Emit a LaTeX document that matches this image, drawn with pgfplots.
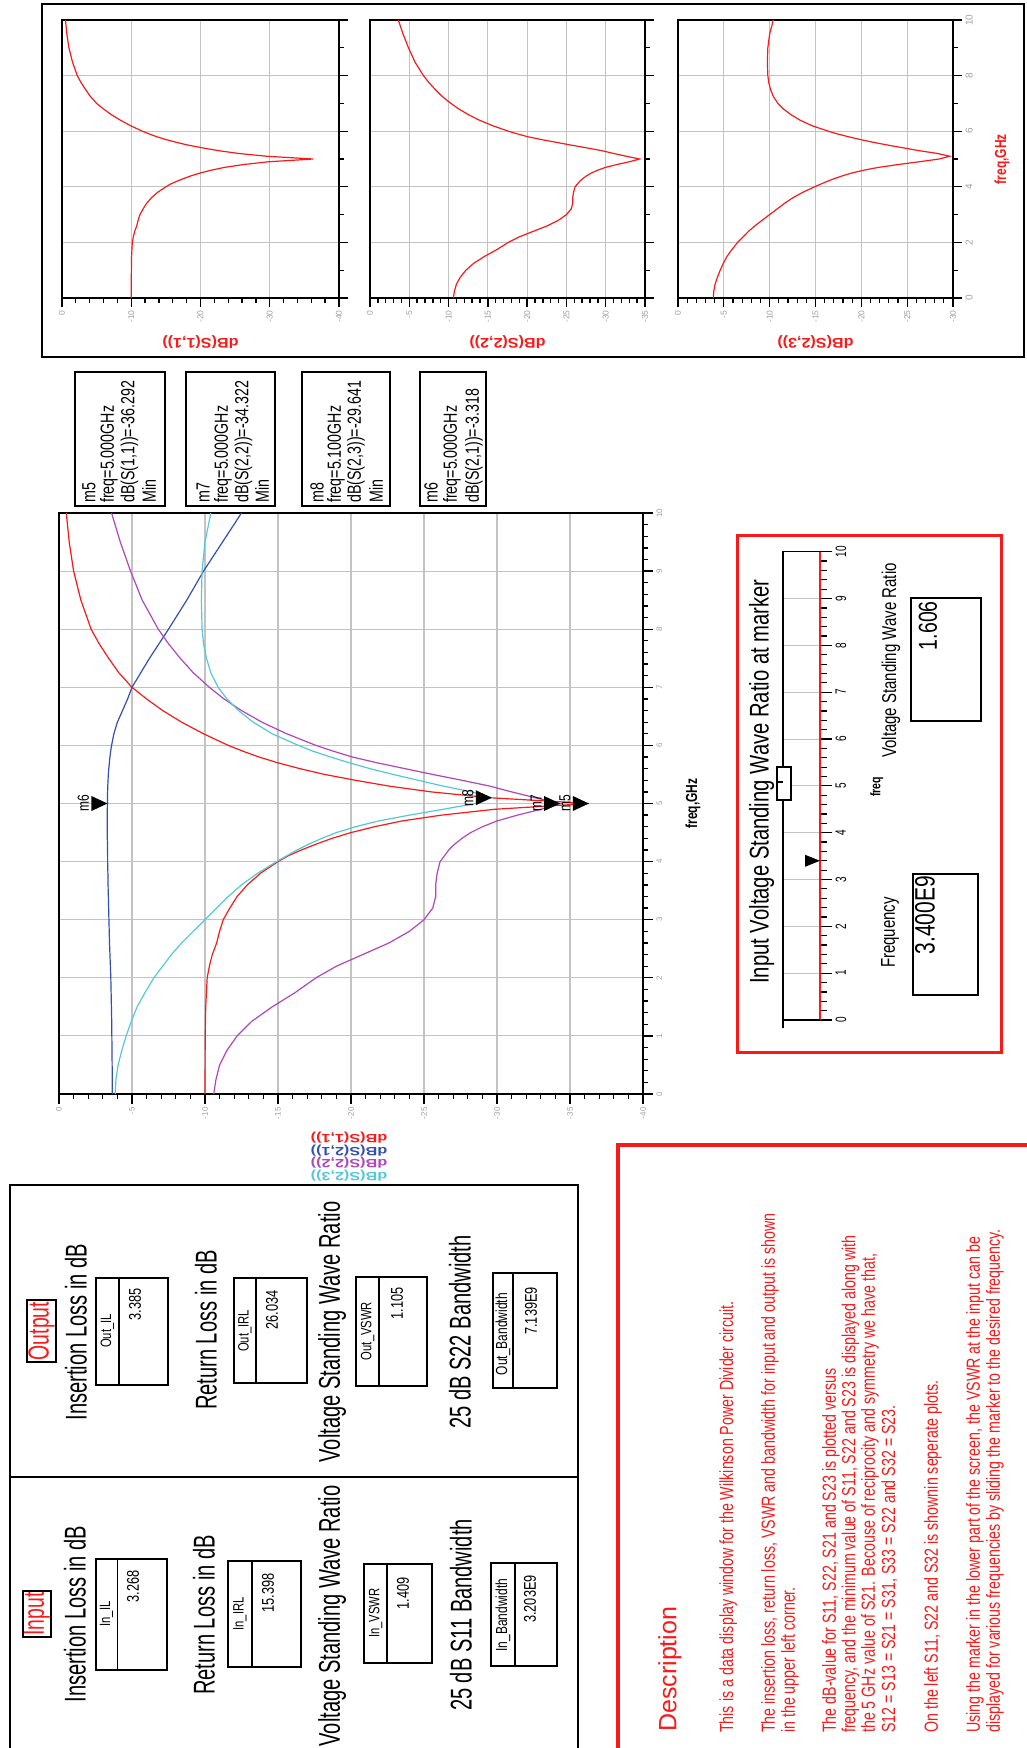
\documentclass[border=0pt]{standalone}
\usepackage{fontspec}
\setmainfont{Liberation Sans}
\newfontfamily\fA{Liberation Sans}[FakeStretch=0.67]
\newfontfamily\fB{Liberation Sans}[FakeStretch=0.75]
\newfontfamily\fW{Liberation Sans}[FakeStretch=1.15]
\newfontfamily\fX{Liberation Sans}[FakeStretch=1.35]
\usepackage{pgfplots}
\usepackage{pgfplotstable}
\pgfplotsset{compat=1.18}
\newcommand\fs[1]{\fontsize{#1}{#1}\selectfont}

\definecolor{adsred}{RGB}{250,25,25}
\definecolor{adsblue}{RGB}{50,80,175}
\definecolor{adsmag}{RGB}{175,70,185}
\definecolor{adscyan}{RGB}{85,200,215}
\definecolor{gridgray}{RGB}{195,195,195}
\definecolor{ticklab}{RGB}{160,160,160}

% marker: filled triangle whose tip sits on the data point
\pgfdeclareplotmark{adsmarker}{%
  \pgfpathmoveto{\pgfqpoint{0pt}{0pt}}%
  \pgfpathlineto{\pgfqpoint{-16pt}{7.5pt}}%
  \pgfpathlineto{\pgfqpoint{-16pt}{-7.5pt}}%
  \pgfpathclose
  \pgfusepathqfill}
\pgfdeclareplotmark{slidemarker}{%
  \pgfpathmoveto{\pgfqpoint{0pt}{0pt}}%
  \pgfpathlineto{\pgfqpoint{-15pt}{6pt}}%
  \pgfpathlineto{\pgfqpoint{-15pt}{-6pt}}%
  \pgfpathclose
  \pgfusepathqfill}
\pgfdeclareplotmark{knob}{%
  \pgfsetlinewidth{1.3pt}%
  \pgfsetfillcolor{white}%
  \pgfpathrectangle{\pgfqpoint{-7pt}{-16.5pt}}{\pgfqpoint{14pt}{33pt}}%
  \pgfusepath{fill,stroke}%
  \pgfpathmoveto{\pgfqpoint{-7pt}{1.5pt}}%
  \pgfpathlineto{\pgfqpoint{-1pt}{1.5pt}}%
  \pgfusepath{stroke}}

% S-parameters of the Wilkinson divider, dB versus frequency in GHz
\pgfplotstableread{
f      s11      s21     s22      s23
0.00  -10.00   -3.65  -10.60   -3.85
0.25  -10.00   -3.65  -10.75   -3.90
0.50  -10.01   -3.64  -11.00   -4.05
0.75  -10.01   -3.63  -11.50   -4.30
1.00  -10.02   -3.62  -12.20   -4.60
1.25  -10.03   -3.61  -13.20   -4.95
1.50  -10.05   -3.59  -14.60   -5.35
1.75  -10.10   -3.57  -16.20   -5.90
2.00  -10.15   -3.55  -17.60   -6.50
2.20  -10.30   -3.52  -19.00   -7.10
2.40  -10.50   -3.49  -20.80   -7.70
2.60  -10.80   -3.46  -22.60   -8.40
2.80  -11.00   -3.44  -24.00   -9.20
3.00  -11.25   -3.42  -25.00  -10.00
3.20  -11.70   -3.40  -25.60  -10.80
3.40  -12.20   -3.38  -25.80  -11.60
3.60  -12.90   -3.36  -25.80  -12.50
3.80  -13.80   -3.35  -25.90  -13.60
4.00  -15.00   -3.33  -26.10  -14.90
4.10  -15.70   -3.33  -26.40  -15.60
4.20  -16.60   -3.32  -26.70  -16.30
4.30  -17.60   -3.32  -27.10  -17.10
4.40  -18.70   -3.31  -27.60  -18.00
4.50  -20.00   -3.31  -28.20  -19.00
4.60  -21.60   -3.31  -29.00  -20.30
4.70  -23.50   -3.31  -30.00  -21.90
4.80  -26.20   -3.31  -31.40  -24.00
4.90  -29.80   -3.31  -33.00  -26.30
5.00  -36.292  -3.318 -34.322  -28.50
5.10  -29.50   -3.32  -32.60  -29.641
5.20  -25.50   -3.33  -31.00  -28.30
5.30  -22.60   -3.34  -29.50  -26.30
5.40  -20.30   -3.36  -27.60  -24.60
5.50  -18.20   -3.38  -25.60  -22.90
5.60  -16.50   -3.41  -23.70  -21.30
5.70  -15.00   -3.45  -21.80  -19.90
5.80  -13.70   -3.49  -20.10  -18.60
5.90  -12.60   -3.54  -18.80  -17.40
6.00  -11.60   -3.60  -17.60  -16.40
6.20   -9.90   -3.76  -15.60  -14.60
6.40   -8.40   -4.00  -13.90  -13.30
6.60   -7.10   -4.35  -12.50  -12.30
6.80   -6.00   -4.70  -11.30  -11.50
7.00   -5.00   -5.00  -10.30  -10.90
7.25   -4.10   -5.60   -9.20  -10.40
7.50   -3.40   -6.20   -8.30  -10.10
7.75   -2.75   -6.85   -7.50   -9.90
8.00   -2.20   -7.50   -6.80   -9.80
8.50   -1.50   -8.75   -5.70   -9.75
9.00   -1.00   -9.90   -4.90   -9.80
9.50   -0.70  -11.20   -4.20  -10.00
10.00  -0.50  -12.50   -3.60  -10.40
}\sparams

% marker readouts
\pgfplotstableread{
db       f    m
-36.292  5.0  m5
-34.322  5.0  m7
-29.641  5.1  m8
-3.318   5.0  m6
}\markers

\pgfplotsset{
  adsbase/.style={scale only axis, anchor=center, x dir=reverse, xmax=0,
    ymin=0, ymax=10, axis line style={line width=1.6pt},
    grid=major, major grid style={gridgray, line width=1.1pt},
    tick align=outside, xtick pos=left, ytick pos=right,
    xticklabel pos=left, yticklabel pos=right,
    tick style={black, line width=1.3pt},
    /pgf/number format/assume math mode=true,
    xticklabel style={rotate=90, anchor=east},
    yticklabel style={rotate=90, anchor=north},
    clip=false},
  smallax/.style={adsbase, height=278pt, ytick={0,2,...,10},
    minor y tick num=1, major tick length=9pt, minor tick length=5pt,
    ticklabel style={font=\fs{8.5}, text=ticklab}},
  trace/.style={line width=1.2pt},
}

\begin{document}
\begin{tikzpicture}
\begin{scope}[x=1pt, y=-1pt]
  % frames
  \draw[line width=1.6pt] (42,4) rectangle (1024,357);
  \draw[line width=1.6pt] (10,1185) rectangle (578,1770);
  \draw[line width=1.6pt] (10,1477) -- (578,1477);
  \draw[adsred, line width=3.5pt] (618,1145) rectangle (1060,1790);
  \draw[adsred, line width=3pt] (737,535) rectangle (1001,1052);
  % marker readout boxes
  \draw[line width=1.4pt] (75,372) rectangle (165,506);
  \draw[line width=1.4pt] (186,372) rectangle (275,506);
  \draw[line width=1.4pt] (302,372) rectangle (390,506);
  \draw[line width=1.4pt] (420,372) rectangle (486,506);
\end{scope}

% ---- three separate plots on top ----
\begin{axis}[smallax, at={(200.5pt,-159pt)}, width=277pt, xmin=-40,
  xtick={-40,-30,...,0}, minor x tick num=4, yticklabels={}]
  \addplot[adsred, trace] table[x=s11, y=f] {\sparams};
\end{axis}
\begin{axis}[smallax, at={(507.5pt,-159pt)}, width=275pt, xmin=-35,
  xtick={-35,-30,...,0}, minor x tick num=4, yticklabels={}]
  \addplot[adsred, trace] table[x=s22, y=f] {\sparams};
\end{axis}
\begin{axis}[smallax, at={(815.5pt,-159pt)}, width=275pt, xmin=-30,
  xtick={-30,-25,...,0}, minor x tick num=4,
  yticklabel style={font=\fs{10}}]
  \addplot[adsred, trace] table[x=s23, y=f] {\sparams};
\end{axis}

% ---- main plot ----
\begin{axis}[adsbase, at={(351pt,-803.5pt)}, width=584pt, height=581pt,
  xmin=-40, xtick={-40,-35,...,0}, minor x tick num=4,
  ytick={0,1,...,10}, minor y tick num=4,
  major tick length=10pt, minor tick length=5pt,
  ticklabel style={font=\fs{8}, text=ticklab}]
  \addplot[adsred, trace] table[x=s11, y=f] {\sparams};
  \addplot[adsblue, trace] table[x=s21, y=f] {\sparams};
  \addplot[adsmag, trace] table[x=s22, y=f] {\sparams};
  \addplot[adscyan, trace] table[x=s23, y=f] {\sparams};
  \addplot[only marks, mark=adsmarker, black, nodes near coords,
    point meta=explicit symbolic,
    every node near coord/.append style={anchor=center, xshift=-24pt,
      rotate=90, font=\fB\fs{16}, text=black, inner sep=0pt}]
    table[x=db, y=f, meta=m] {\markers};
\end{axis}

% ---- frequency slider ----
\begin{axis}[scale only axis, anchor=center, at={(801.5pt,-785.85pt)},
  width=37pt, height=468.3pt, xmin=0, xmax=1, ymin=0, ymax=10,
  axis x line=none, axis y line*=right,
  y axis line style={adsred, line width=1.4pt},
  ytick={0,1,...,10}, minor y tick num=4,
  tick align=outside, tick style={black, line width=1.2pt},
  major tick length=12pt, minor tick length=7pt,
  ymajorgrids, major grid style={gridgray, line width=1pt},
  /pgf/number format/assume math mode=true,
  yticklabel style={rotate=90, anchor=north, font=\fA\fs{15}, text=black},
  clip=false]
  \draw[black, line width=1.4pt] (rel axis cs:0,-0.018) -- (rel axis cs:0,1)
    -- (rel axis cs:1,1);
  \draw[black, line width=1.2pt] (rel axis cs:0,0) -- (rel axis cs:1,0);
  \addplot[only marks, mark=slidemarker, black] coordinates {(1,3.4)};
  \addplot[only marks, mark=knob, black] coordinates {(0.03,5.05)};
\end{axis}

\begin{scope}[x=1pt, y=-1pt, every node/.style={inner sep=0pt}]
  % marker readouts
  \begin{scope}[every node/.style={rotate=90, anchor=west, inner sep=0pt, font=\fB\fs{19}}]
    \node at (89,503) {m5};
    \node at (109,503) {freq=5.000GHz};
    \node at (129.5,503) {dB(S(1,1))=-36.292};
    \node at (149,503) {Min};
    \node at (203,503) {m7};
    \node at (223,503) {freq=5.000GHz};
    \node at (243.5,503) {dB(S(2,2))=-34.322};
    \node at (262,503) {Min};
    \node at (317,503) {m8};
    \node at (336,503) {freq=5.100GHz};
    \node at (356,503) {dB(S(2,3))=-29.641};
    \node at (376,503) {Min};
    \node at (431,503) {m6};
    \node at (452,503) {freq=5.000GHz};
    \node at (474,503) {dB(S(2,1))=-3.318};
  \end{scope}

  % axis titles
  \node[rotate=180, font=\fX\bfseries\fs{12}, text=adsred] at (349,1138) {dB(S(1,1))};
  \node[rotate=180, font=\fX\bfseries\fs{12}, text=adsblue] at (349,1150.5) {dB(S(2,1))};
  \node[rotate=180, font=\fX\bfseries\fs{12}, text=adsmag] at (349,1163) {dB(S(2,2))};
  \node[rotate=180, font=\fX\bfseries\fs{12}, text=adscyan] at (349,1175.5) {dB(S(2,3))};
  \node[rotate=90, font=\fB\bfseries\fs{16}] at (693,803.5) {freq,GHz};
  \node[rotate=180, font=\fW\bfseries\fs{14}, text=adsred] at (200.5,342) {dB(S(1,1))};
  \node[rotate=180, font=\fW\bfseries\fs{14}, text=adsred] at (507.5,342) {dB(S(2,2))};
  \node[rotate=180, font=\fW\bfseries\fs{14}, text=adsred] at (815.5,342) {dB(S(2,3))};
  \node[rotate=90, font=\fB\bfseries\fs{16}, text=adsred] at (1002,159) {freq,GHz};

  % slider panel
  \node[rotate=90, font=\fB\fs{27}] at (761.7,781.5) {Input Voltage Standing Wave Ratio at marker};
  \node[rotate=90, font=\fB\fs{20}] at (891,660.5) {Voltage Standing Wave Ratio};
  \node[rotate=90, font=\fB\fs{20}] at (890,932.5) {Frequency};
  \node[rotate=90, font=\fB\bfseries\fs{14}] at (876.7,786.7) {freq};
  \draw[line width=1.4pt] (911,598) rectangle (981,721);
  \draw[line width=1.4pt] (913,874) rectangle (978,995);
  \node[rotate=90, anchor=east, font=\fB\fs{26}] at (928,601) {1.606};
  \node[rotate=90, anchor=east, font=\fB\fs{28}] at (925,876) {3.400E9};

  % output panel
  \draw[line width=1.2pt] (27,1300) rectangle (56,1362);
  \node[rotate=90, font=\fA\fs{29}, text=adsred] at (41.5,1331) {Output};
  \begin{scope}[every node/.style={rotate=90, inner sep=0pt, font=\fA\fs{30}}]
    \node at (76,1332) {Insertion Loss in dB};
    \node at (206,1330) {Return Loss in dB};
    \node at (332,1332) {Voltage Standing Wave Ratio};
    \node at (460,1332) {25 dB S22 Bandwidth};
    \node at (75,1614) {Insertion Loss in dB};
    \node at (204,1615) {Return Loss in dB};
    \node at (332,1616) {Voltage Standing Wave Ratio};
    \node at (461,1615) {25 dB S11 Bandwidth};
  \end{scope}
  \draw[line width=1.4pt] (96,1278) rectangle (168,1385) (119,1278) -- (119,1385);
  \draw[line width=1.4pt] (234,1278) rectangle (307,1383) (256,1278) -- (256,1383);
  \draw[line width=1.4pt] (356,1277) rectangle (427,1386) (379,1277) -- (379,1386);
  \draw[line width=1.4pt] (493,1273) rectangle (557,1388) (513,1273) -- (513,1388);
  \begin{scope}[every node/.style={rotate=90, inner sep=0pt, font=\fB\fs{15}}]
    \node at (107.5,1331) {Out\_IL};
    \node at (245,1331) {Out\_IRL};
    \node at (367.5,1331) {Out\_VSWR};
    \node[font=\fB\fs{16}] at (503,1334) {Out\_Bandwidth};
    \node at (106.5,1614) {In\_IL};
    \node at (240,1614) {In\_IRL};
    \node at (375.5,1613) {In\_VSWR};
    \node[font=\fB\fs{16}] at (503,1615) {In\_Bandwidth};
  \end{scope}
  \begin{scope}[every node/.style={rotate=90, anchor=east, inner sep=0pt, font=\fB\fs{17}}]
    \node at (135,1288) {3.385};
    \node at (272,1290) {26.034};
    \node at (397,1287) {1.105};
    \node at (531,1287) {7.139E9};
    \node at (133,1570) {3.268};
    \node at (268,1573) {15.398};
    \node at (403,1577) {1.409};
    \node at (530,1575) {3.203E9};
  \end{scope}

  % input panel
  \draw[line width=1.2pt] (23,1591) rectangle (51,1637);
  \draw[line width=1.4pt] (96,1559) rectangle (167,1670) (117.3,1559) -- (117.3,1670);
  \draw[line width=1.4pt] (228,1561) rectangle (301,1667) (252,1561) -- (252,1667);
  \draw[line width=1.4pt] (364,1564) rectangle (432,1663) (387,1564) -- (387,1663);
  \draw[line width=1.4pt] (491,1563) rectangle (557,1666) (515,1563) -- (515,1666);
  \node[rotate=90, font=\fA\fs{29}, text=adsred] at (37,1614) {Input};

  % description
  \node[rotate=90, anchor=west, font=\fs{25}, text=adsred] at (670,1732) {Description};
  \begin{scope}[every node/.style={rotate=90, anchor=west, inner sep=0pt, font=\fB\fs{19}, text=adsred}]
    \node at (728.3,1733) {This is a data display window for the Wilkinson Power Divider circuit.};
    \node at (770,1733) {The insertion loss, return loss, VSWR and bandwidth for input and output is shown};
    \node at (790,1733) {in the upper left corner.};
    \node at (831,1733) {The dB-value for S11, S22, S21 and S23 is plotted versus};
    \node at (850.5,1733) {frequency, and the minimum value of S11, S22 and S23 is displayed along with};
    \node at (870,1733) {the 5 GHz value of S21. Becouse of reciprocity and symmetry we have that,};
    \node at (889.5,1733) {S12 = S13 = S21 = S31, S33 = S22 and S32 = S23.};
    \node at (933,1733) {On the left S11, S22 and S32 is shownin seperate plots.};
    \node at (975,1733) {Using the marker in the lower part of the screen, the VSWR at the input can be};
    \node at (995,1733) {displayed for various frequencies by sliding the marker to the desired frequency.};
  \end{scope}
\end{scope}
\pgfresetboundingbox
\path[use as bounding box] (0pt,0pt) rectangle (1027pt,-1748pt);
\end{tikzpicture}
\end{document}
